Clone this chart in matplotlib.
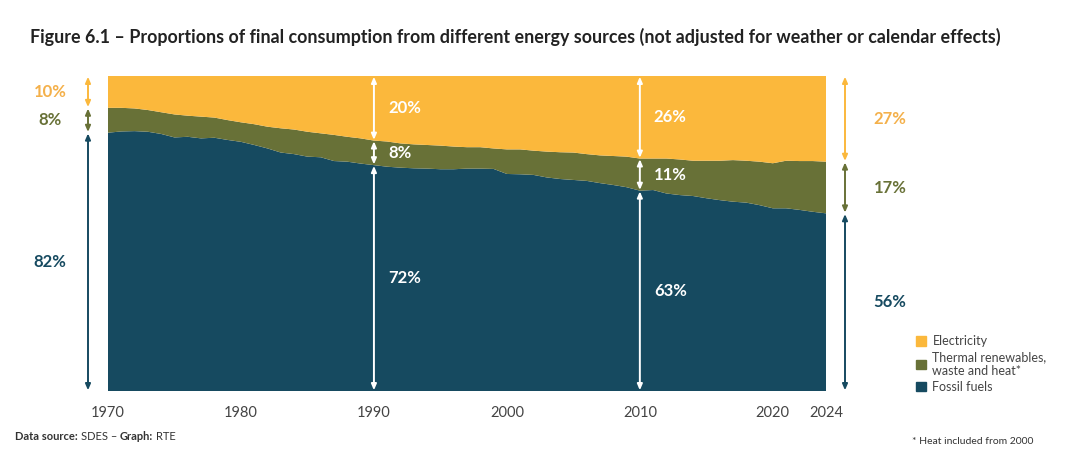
import numpy as np
import matplotlib
matplotlib.use('Agg')
import matplotlib.pyplot as plt
from matplotlib.patches import Patch

plt.rcParams['font.family'] = ['Lato', 'DejaVu Sans']

years = list(range(1970, 2025))

# shares (%)
fossil = [82.0, 82.4, 82.5, 82.3, 81.6, 80.5, 80.7, 80.2, 80.4, 79.7,
          79.1, 78.1, 77.0, 75.7, 75.2, 74.4, 74.2, 73.0, 72.8, 72.2,
          71.7, 71.2, 70.9, 70.7, 70.6, 70.4, 70.4, 70.6, 70.6, 70.5,
          68.9, 68.8, 68.6, 67.8, 67.3, 67.0, 66.7, 66.0, 65.4, 64.7,
          63.6, 63.8, 62.7, 62.2, 61.9, 61.2, 60.6, 60.1, 59.8, 59.0,
          58.0, 58.0, 57.5, 56.9, 56.4]
thermal = [7.9, 7.5, 7.2, 6.9, 6.9, 7.3, 6.7, 6.9, 6.4, 6.3,
           6.2, 6.6, 6.9, 7.7, 7.8, 7.9, 7.6, 8.3, 7.9, 8.0,
           7.8, 8.0, 7.7, 7.6, 7.5, 7.5, 7.2, 6.8, 6.8, 6.5,
           7.8, 7.9, 7.7, 8.2, 8.5, 8.7, 8.5, 8.8, 9.2, 9.7,
           10.2, 10.0, 11.1, 11.3, 11.2, 11.9, 12.5, 13.2, 13.3, 13.8,
           14.3, 15.1, 15.5, 16.1, 16.4]
electricity = [10.1, 10.1, 10.3, 10.8, 11.5, 12.2, 12.6, 12.9, 13.2, 14.0,
               14.7, 15.3, 16.1, 16.6, 17.0, 17.7, 18.2, 18.7, 19.3, 19.8,
               20.5, 20.8, 21.4, 21.7, 21.9, 22.1, 22.4, 22.6, 22.6, 23.0,
               23.3, 23.3, 23.7, 24.0, 24.2, 24.3, 24.8, 25.2, 25.4, 25.6,
               26.2, 26.2, 26.2, 26.5, 26.9, 26.9, 26.9, 26.7, 26.9, 27.2,
               27.7, 26.9, 27.0, 27.0, 27.2]

tick_years = [1970, 1980, 1990, 2000, 2010, 2020, 2024]

# labelled years and the rounded labels shown on the chart
marked = {1970: ('10%', '8%', '82%'),
          1990: ('20%', '8%', '72%'),
          2010: ('26%', '11%', '63%'),
          2024: ('27%', '17%', '56%')}

c_elec = '#FBB83C'
c_therm = '#687137'
c_foss = '#164A60'
c_elec_txt = '#F4B04A'

fig = plt.figure(figsize=(10.9, 4.67), dpi=100)
ax = fig.add_axes([108/1090, 1 - 391/467, (826-108)/1090, 315/467])
ax.stackplot(years, fossil, thermal, electricity,
             colors=[c_foss, c_therm, c_elec], linewidth=0)
ax.set_xlim(1970, 2024)
ax.set_ylim(0, 100)
ax.axis('off')
for y in tick_years:
    ax.text(y, -7, str(y), ha='center', va='center', fontsize=10.5,
            color='#444444', transform=ax.transData, clip_on=False)


def arrow(x, y0, y1, color):
    ax.annotate('', xy=(x, y1), xytext=(x, y0), xycoords='data',
                annotation_clip=False,
                arrowprops=dict(arrowstyle='<|-|>,head_length=0.35,head_width=0.15',
                                color=color, lw=1.4, shrinkA=0.5, shrinkB=0.5))


px_year = (2024 - 1970) / (826 - 108)
for yr, labels in marked.items():
    i = years.index(yr)
    f = fossil[i]
    t = f + thermal[i]
    segs = [(t, 100), (f, t), (0, f)]
    if yr in (1970, 2024):
        xa = 1970 - 20 * px_year if yr == 1970 else 2024 + 19 * px_year
        cols = [c_elec, c_therm, c_foss]
        tcols = [c_elec_txt, c_therm, c_foss]
        xt = 1970 - 58 * px_year if yr == 1970 else 2024 + 64 * px_year
        ha = 'center'
    else:
        xa = yr
        cols = ['white'] * 3
        tcols = ['white'] * 3
        xt = yr + 14 * px_year
        ha = 'left'
    for (lo, hi), col, tc, lab in zip(segs, cols, tcols, labels):
        arrow(xa, lo, hi, col)
        ax.text(xt, (lo + hi) / 2, lab, ha=ha, va='center', fontsize=12,
                fontweight='bold', color=tc, clip_on=False)

fig.text(30/1090, 1 - 37/467,
         'Figure 6.1 \u2013 Proportions of final consumption from different energy sources '
         '(not adjusted for weather or calendar effects)',
         fontsize=12.85, fontweight='bold', color='#222222', va='center', ha='left')

handles = [Patch(color=c_elec, label='Electricity'),
           Patch(color=c_therm, label='Thermal renewables,\nwaste and heat*'),
           Patch(color=c_foss, label='Fossil fuels')]
fig.legend(handles=handles, loc='upper left', bbox_to_anchor=(905/1090, 1 - 324/467),
           frameon=False, fontsize=9, handlelength=0.8, handleheight=0.8,
           handletextpad=0.5, labelspacing=0.3, labelcolor='#444444')

# footer: bold/regular pieces laid out one after another
fig.canvas.draw()
r = fig.canvas.get_renderer()
x = 15
for txt, w in [('Data source:', 'bold'), ('SDES \u2013', 'normal'),
               ('Graph:', 'bold'), ('RTE', 'normal')]:
    t = fig.text(x/1090, 1 - 437/467, txt, fontsize=8, fontweight=w,
                 color='#333333', va='center', ha='left')
    x += t.get_window_extent(r).width + 3

fig.text(912/1090, 1 - 442/467, '* Heat included from 2000', fontsize=7.5,
         color='#333333', va='center', ha='left')

fig.savefig('out.png', dpi=100)
